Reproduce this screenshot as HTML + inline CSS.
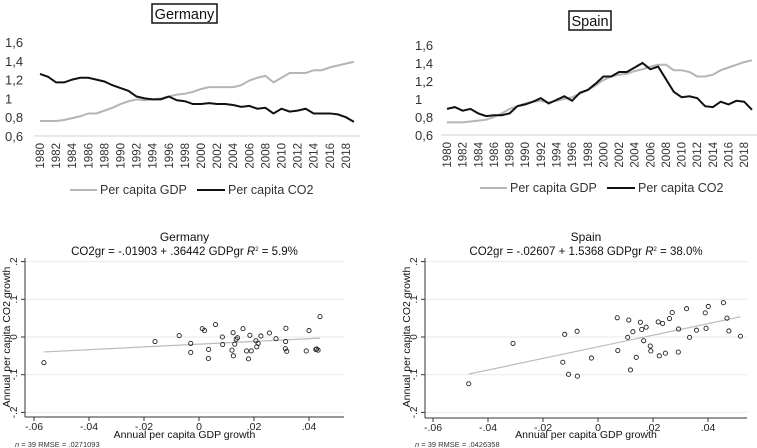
<!DOCTYPE html>
<html><head><meta charset="utf-8"><style>
body{margin:0;background:#fff;}
svg{display:block;font-family:"Liberation Sans",sans-serif;}
</style></head><body>
<svg id="s" width="757" height="448"></svg>
<script>
const years=[];for(let y=1980;y<=2019;y++)years.push(y);
const deGdp=[0.76,0.76,0.76,0.77,0.79,0.81,0.84,0.84,0.87,0.9,0.94,0.97,0.99,0.98,0.99,1.0,1.02,1.04,1.05,1.07,1.1,1.12,1.12,1.12,1.12,1.14,1.19,1.22,1.24,1.17,1.22,1.27,1.27,1.27,1.3,1.3,1.33,1.35,1.37,1.39];
const deCo2=[1.26,1.23,1.17,1.17,1.2,1.22,1.22,1.2,1.18,1.14,1.11,1.08,1.02,1.0,0.99,0.99,1.02,0.98,0.97,0.94,0.94,0.95,0.94,0.94,0.93,0.91,0.92,0.89,0.9,0.84,0.89,0.86,0.87,0.89,0.84,0.84,0.84,0.83,0.8,0.75];
const esGdp=[0.74,0.74,0.74,0.75,0.76,0.77,0.8,0.84,0.89,0.92,0.95,0.97,0.98,0.96,0.98,1.0,1.02,1.06,1.1,1.15,1.21,1.25,1.27,1.28,1.31,1.33,1.36,1.38,1.38,1.32,1.32,1.3,1.25,1.25,1.27,1.32,1.35,1.38,1.41,1.43];
const esCo2=[0.89,0.91,0.87,0.89,0.84,0.81,0.82,0.82,0.84,0.92,0.94,0.97,1.01,0.95,0.99,1.03,0.98,1.07,1.1,1.17,1.25,1.25,1.3,1.3,1.35,1.4,1.33,1.36,1.22,1.08,1.02,1.03,1.01,0.92,0.91,0.97,0.94,0.98,0.97,0.88];
const lineTicks=[0.6,0.8,1,1.2,1.4,1.6];
const lineTickLabels=["0,6","0,8","1","1,2","1,4","1,6"];
const deX=[-0.0564,-0.016,-0.0072,-0.003,-0.003,0.0012,0.002,0.0035,0.0034,0.006,0.0085,0.0086,0.0124,0.012,0.0125,0.013,0.0135,0.014,0.016,0.0173,0.018,0.0185,0.019,0.0207,0.021,0.0215,0.0225,0.0256,0.028,0.0316,0.0315,0.0314,0.0319,0.039,0.04,0.0428,0.0433,0.0425,0.044];
const deY=[-0.068,-0.012,0.0035,-0.017,-0.041,0.022,0.017,-0.033,-0.057,0.033,0,-0.02,0.0115,-0.035,-0.05,-0.019,-0.006,-0.002,0.022,-0.037,-0.058,0.0045,-0.037,-0.01,-0.026,-0.017,0.0027,0.0106,-0.0045,0.023,-0.012,-0.031,-0.038,-0.037,0.017,-0.032,-0.035,-0.033,0.054];
const esX=[-0.047,-0.0309,-0.0128,-0.0121,-0.0107,-0.0075,-0.0076,-0.0024,0.007,0.0072,0.0108,0.0112,0.0118,0.0127,0.0139,0.0154,0.0159,0.0166,0.0175,0.019,0.0192,0.0219,0.0223,0.0235,0.0245,0.026,0.027,0.0293,0.0292,0.0322,0.0333,0.0358,0.039,0.0393,0.0401,0.0456,0.0469,0.0476,0.0518];
const esY=[-0.124,-0.017,-0.067,0.007,-0.099,-0.104,0.015,-0.056,0.051,-0.036,-0.001,0.045,-0.0875,0.014,-0.054,0.039,0.02,-0.01,0.026,-0.024,-0.037,0.04,-0.05,0.036,-0.043,0.049,0.065,0.021,-0.04,0.075,-0.001,0.018,0.064,0.023,0.081,0.091,0.05,0.016,0.002];
const xTicks=[-0.06,-0.04,-0.02,0,0.02,0.04];
const xTickLabels=["-.06","-.04","-.02","0",".02",".04"];
const yTicks=[-0.2,-0.1,0,0.1,0.2];
const yTickLabels=["-.2","-.1","0",".1",".2"];

const S=document.getElementById('s');const NS='http://www.w3.org/2000/svg';
function el(t,a,txt){const e=document.createElementNS(NS,t);for(const k in a)e.setAttribute(k,a[k]);if(txt!==undefined)e.textContent=txt;S.appendChild(e);return e;}

function lineChart(cfg){
  const X=i=>cfg.x0+i*cfg.step;
  const Y=v=>cfg.yBase-(v-0.6)/0.2*cfg.ySp;
  lineTicks.forEach((t,i)=>{const e=el('text',{x:cfg.lx,y:Y(t)+5,'font-size':13,fill:'#333'},lineTickLabels[i]);
  });
  const ax=el('line',{x1:cfg.x0-6,x2:cfg.x0+years.length*cfg.step-2,y1:Y(0.6),y2:Y(0.6),stroke:'#d0d0d0','stroke-width':1});
  
  years.forEach((yr,i)=>{if(i%2)return;const x=X(i)+4,y=Y(0.6)+7;
    const e=el('text',{x:x,y:y,'font-size':11.5,fill:'#333','text-anchor':'end',transform:`rotate(-90 ${x} ${y})`},String(yr));
    });
  const g=el('polyline',{points:cfg.gdp.map((v,i)=>X(i)+','+Y(v)).join(' '),fill:'none',stroke:'#b5b5b5','stroke-width':2});
  
  const c=el('polyline',{points:cfg.co2.map((v,i)=>X(i)+','+Y(v)).join(' '),fill:'none',stroke:'#111','stroke-width':2});
  
  const tb=el('rect',{x:cfg.tx,y:cfg.ty,width:cfg.tw,height:19,fill:'#fff',stroke:'#111','stroke-width':1.5});
  
  const tt=el('text',{x:cfg.tx+cfg.tw/2,y:cfg.ty+15,'font-size':14.5,'text-anchor':'middle',fill:'#111'},cfg.title);
  
  const L=cfg.leg,ly=cfg.ly;
  let e=el('line',{x1:L,x2:L+27,y1:ly,y2:ly,stroke:'#b5b5b5','stroke-width':2});
  e=el('text',{x:L+30,y:ly+4,'font-size':12.5,fill:'#333'},'Per capita GDP');
  e=el('line',{x1:L+127,x2:L+155,y1:ly,y2:ly,stroke:'#111','stroke-width':2});
  e=el('text',{x:L+158,y:ly+4,'font-size':12.5,fill:'#333'},'Per capita CO2');
}
lineChart({x0:40,step:8.05,yBase:136,ySp:18.8,lx:5,gdp:deGdp,co2:deCo2,title:'Germany',tx:152,ty:4,tw:65,leg:70,ly:190});
lineChart({x0:447,step:7.82,yBase:135,ySp:18,lx:415,gdp:esGdp,co2:esCo2,title:'Spain',tx:569,ty:11,tw:42,leg:480,ly:188});

function scatter(cfg){
  const X=v=>cfg.x0+v/0.02*55;
  const Y=v=>337-v/0.1*37.7;
  yTicks.forEach((t,i)=>{
    let g=el('line',{x1:cfg.left,x2:cfg.right,y1:Y(t),y2:Y(t),stroke:'#eaeaea','stroke-width':1});
    
    g=el('line',{x1:cfg.left-4,x2:cfg.left,y1:Y(t),y2:Y(t),stroke:'#333'});
    const x=cfg.left-8,y=Y(t);
    const e=el('text',{x:x,y:y,'font-size':10,fill:'#222','text-anchor':'middle',transform:`rotate(-90 ${x} ${y})`},yTickLabels[i]);
    });
  xTicks.forEach((t,i)=>{
    let g=el('line',{x1:X(t),x2:X(t),y1:cfg.bottom,y2:cfg.bottom+4,stroke:'#333'});
    const e=el('text',{x:X(t),y:cfg.bottom+13,'font-size':10.5,fill:'#222','text-anchor':'middle'},xTickLabels[i]);
    });
  let a=el('line',{x1:cfg.left,x2:cfg.left,y1:258,y2:cfg.bottom,stroke:'#333'});
  a=el('line',{x1:cfg.left,x2:cfg.right,y1:cfg.bottom,y2:cfg.bottom,stroke:'#333'});
  const xs=cfg.xs,ys=cfg.ys;const mn=Math.min(...xs),mx=Math.max(...xs);
  const f=v=>cfg.a+cfg.b*v;
  a=el('line',{x1:X(mn),x2:X(mx),y1:Y(f(mn)),y2:Y(f(mx)),stroke:'#bbb','stroke-width':1.2});
  xs.forEach((v,i)=>{const p=el('circle',{cx:X(v),cy:Y(ys[i]),r:2.1,fill:'none',stroke:'#222','stroke-width':0.9});
    });
  const cx=(cfg.left+cfg.right)/2;
  let t=el('text',{x:cx,y:241,'font-size':12,'text-anchor':'middle',fill:'#111'},cfg.title);
  t=el('text',{x:cx,y:255,'font-size':11.5,'text-anchor':'middle',fill:'#111'});t.innerHTML=cfg.eq+'    <tspan font-style="italic">R</tspan><tspan font-size="6" dy="-4">2</tspan><tspan dy="4"> = '+cfg.r2+'</tspan>';
  
  t=el('text',{x:cx,y:438,'font-size':10.5,'text-anchor':'middle',fill:'#111'},'Annual per capita GDP growth');
  const yx=cfg.left-15;
  t=el('text',{x:yx,y:337,'font-size':10.5,'text-anchor':'middle',fill:'#111',transform:`rotate(-90 ${yx} 337)`},'Annual per capita CO2 growth');
  t=el('text',{x:cfg.left-10,y:447,'font-size':7.5,fill:'#333'});t.innerHTML='<tspan font-style="italic">n</tspan> = 39    RMSE =  '+cfg.rmse;
}
scatter({x0:199,left:25,right:344,bottom:417,xs:deX,ys:deY,a:-0.01903,b:0.36442,title:'Germany',eq:'CO2gr = -.01903 + .36442 GDPgr',r2:'5.9%',rmse:'.0271093'});
scatter({x0:598,left:425,right:747,bottom:418,xs:esX,ys:esY,a:-0.02607,b:1.5368,title:'Spain',eq:'CO2gr = -.02607 + 1.5368 GDPgr',r2:'38.0%',rmse:'.0426358'});
</script>
</body></html>
